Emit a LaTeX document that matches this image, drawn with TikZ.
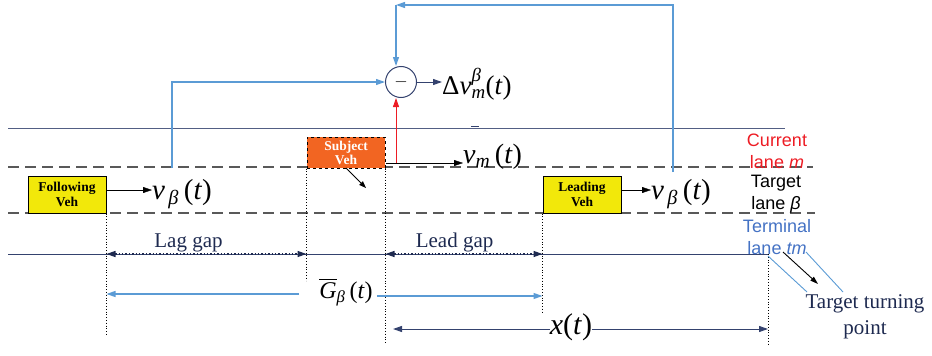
\documentclass[tikz,border=0pt]{standalone}
\usepackage{amsmath,amssymb}
\usepackage{fontspec}
\setmainfont{Liberation Serif}
\newfontfamily\lanefont{Liberation Sans}
\newfontfamily\symfont{Liberation Serif}
\usetikzlibrary{arrows.meta}

\definecolor{fbblue}{RGB}{91,155,213}
\definecolor{roadnavy}{RGB}{52,66,110}
\definecolor{txtnavy}{RGB}{30,42,80}
\definecolor{subjorange}{RGB}{242,101,34}
\definecolor{vehyellow}{RGB}{242,232,10}
\definecolor{curred}{RGB}{237,28,36}
\definecolor{termblue}{RGB}{68,114,196}

% speed and gap symbols, set in the text font
\newcommand{\spdb}{\textit{v}\textsubscript{\,\textit{β}}\,(\textit{t})}
\newcommand{\spdm}{\textit{v}\textsubscript{\textit{m}}\,(\textit{t})}
\newcommand{\spdiff}{Δ\textit{v}$^{\textit{β}}_{\textit{m}}$(\textit{t})}
\newcommand{\gapbar}{$\overline{\textit{G}}$\textsubscript{\textit{β}}\,(\textit{t})}

\tikzset{
  veh/.style={draw=black, line width=1pt, fill=vehyellow, minimum width=78pt, minimum height=37pt,
    inner sep=0pt, align=center, font=\fontsize{13.5}{15}\selectfont\bfseries},
  subjveh/.style={veh, fill=subjorange, dashed, minimum height=31pt, text=white,
    font=\fontsize{13.5}{14}\selectfont\bfseries},
  lanedash/.style={gray!70!black, line width=1.1pt, dash pattern=on 11pt off 6pt},
  guide/.style={black, dotted, line width=0.8pt},
  gaparrow/.style={<->, txtnavy, dotted, line width=1.4pt},
  gaplbl/.style={txtnavy, font=\fontsize{21}{26}\selectfont, inner sep=1pt},
  lanelbl/.style={align=center, font=\lanefont\fontsize{18}{22}\selectfont, inner sep=0pt},
  bigmath/.style={inner sep=0pt, font=\symfont\fontsize{29}{29}\selectfont}
}

\begin{document}
\begin{tikzpicture}[x=1pt, y=-1pt, >={Triangle[length=9pt,width=6pt]}]
  \useasboundingbox (0,0) rectangle (932,356);
  % lanes
  \draw[roadnavy!85, line width=1pt] (8,128) -- (785,128);
  \draw[roadnavy, line width=1.5pt] (471,126.5) -- (479,126.5);
  \draw[lanedash] (8,167) -- (813,167);
  \draw[lanedash] (8,213) -- (815,213);
  \draw[roadnavy, line width=1pt] (8,254) -- (768,254);
  \node[lanelbl, curred] (curlane) at (777,151) {Current\\lane \textit{m}};
  \node[lanelbl, black] (tarlane) at (776,194) {Target\\lane \textit{β}};
  \node[lanelbl, termblue] (termlane) at (777,237) {Terminal\\lane \textit{tm}};
  % vehicles
  \node[veh] (follow) at (67,194.5) {Following\\Veh};
  \node[veh] (lead) at (582,194.5) {Leading\\Veh};
  \node[subjveh] (subj) at (346,152.5) {Subject\\Veh};
  \draw[-{Triangle[length=7pt,width=5pt]}, black, line width=0.8pt] (346,168) -- (366,188);
  % speeds
  \node[bigmath, anchor=west] (vfol) at (152,194) {\spdb};
  \node[bigmath, anchor=west] (vlead) at (651,194) {\spdb};
  \node[bigmath, anchor=west, font=\symfont\fontsize{28}{28}\selectfont] (vm) at (463,157) {\spdm};
  \draw[->, black] (follow.east |- 0,190) -- (vfol.west |- 0,190);
  \draw[->, black] (lead.east |- 0,190) -- (vlead.west |- 0,190);
  \coordinate (redfoot) at (396,163);
  \draw[->, black] (subj.east |- redfoot) -- (vm.west |- redfoot);
  % speed difference
  \node[draw=roadnavy, circle, line width=1pt, minimum size=31pt, inner sep=0pt,
    font=\fontsize{18}{18}\selectfont] (diff) at (401,82) {$-$};
  \node[bigmath, anchor=west, font=\symfont\fontsize{27}{27}\selectfont] (dv) at (442,84) {\spdiff};
  \draw[->, roadnavy, line width=1pt] (diff.east) -- (dv.west |- diff.east);
  \draw[->, curred, line width=0.9pt] (redfoot) -- (redfoot |- diff.south);
  \coordinate (folltap) at (172,168);
  \coordinate (leadtap) at (673,172);
  \coordinate (topcorner) at (396,5);
  \draw[->, fbblue, line width=1.1pt] (folltap) |- (diff.west);
  \draw[->, fbblue, line width=1.1pt] (leadtap) |- (topcorner);
  \draw[->, fbblue, line width=1.1pt] (topcorner) -- (topcorner |- diff.north);
  % gaps
  \coordinate (turn) at (768,254);
  \draw[guide] (follow.south east) -- ++(0,122);
  \draw[guide] (subj.south west) -- ++(0,112);
  \draw[guide] (subj.south east) -- ++(0,175);
  \draw[guide] (lead.south west) -- ++(0,99);
  \draw[guide] (turn) -- ++(0,91);
  \draw[gaparrow] (follow.south east |- turn) -- (subj.south west |- turn) node[gaplbl, pos=0.41, above] (laglbl) {Lag gap};
  \draw[gaparrow] (subj.south east |- turn) -- (lead.south west |- turn) node[gaplbl, pos=0.44, above] (leadlbl) {Lead gap};
  \node[bigmath, font=\symfont\fontsize{24}{24}\selectfont] (gbar) at (346,292) {\gapbar};
  \draw[->, fbblue, line width=1.1pt] ([xshift=-20pt]gbar.west |- 0,294) -- (follow.south east |- 0,294);
  \draw[->, fbblue, line width=1.1pt] ([xshift=4pt]gbar.east |- 0,296) -- (lead.south west |- 0,296);
  \node[bigmath, font=\symfont\fontsize{30}{30}\selectfont] (xt) at (571,327) {\textit{x}(\textit{t})};
  \draw[->, roadnavy, line width=1pt] (xt.west |- 0,329) -- (393,329);
  \draw[->, roadnavy, line width=1pt] (xt.east |- 0,329) -- (turn |- 0,329);
  % turning point
  \draw[fbblue, line width=0.9pt] (turn) ++(0,2) -- (807,292);
  \draw[fbblue, line width=0.9pt] (806,252) -- (843,292);
  \draw[-{Triangle[length=8pt,width=5pt]}, black, line width=0.9pt] (783,252) -- (818,284);
  \node[gaplbl, align=center, font=\fontsize{21}{26}\selectfont] (tpoint) at (865,317) {Target turning\\point};
\end{tikzpicture}
\end{document}
